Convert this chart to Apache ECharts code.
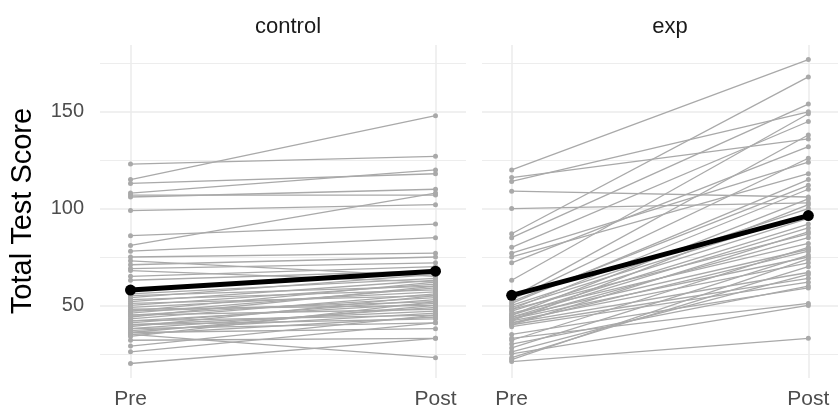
<!DOCTYPE html>
<html>
<head>
<meta charset="utf-8">
<script src="https://cdn.jsdelivr.net/npm/echarts@6/dist/echarts.min.js"></script>
<style>
  html, body { margin: 0; padding: 0; background: #fff; }
  #chart { width: 838px; height: 415px; }
</style>
</head>
<body>
<div id="chart"></div>
<script>
  // paired scores, one entry per student (Pre -> Post)
  const controlPre  = [123, 115, 113, 108, 107, 106, 99, 86, 81, 78, 75, 73, 71, 69, 68, 65, 63, 56, 55, 54, 53, 52, 51, 50, 49, 48, 47, 47, 46, 45, 45, 44, 43, 42, 42, 41, 40, 40, 39, 38, 38, 37, 36, 36, 35, 35, 34, 32, 29, 26, 20];
  const controlPost = [127, 148, 118, 120, 107, 110, 102, 92, 108, 85, 77, 65, 75, 72, 62, 70, 68, 64, 60, 66, 58, 63, 55, 61, 57, 50, 62, 52, 59, 54, 48, 60, 56, 45, 51, 53, 47, 43, 55, 49, 41, 46, 50, 38, 44, 23, 52, 33, 45, 41, 33];
  const expPre  = [120, 116, 114, 109, 100, 87, 85, 80, 77, 75, 72, 63, 54, 53, 52, 51, 50, 49, 48, 48, 47, 46, 45, 45, 44, 44, 43, 43, 42, 42, 41, 41, 40, 40, 39, 35, 33, 32, 30, 28, 26, 25, 23, 21, 22];
  const expPost = [177, 136, 150, 106, 103, 168, 154, 145, 124, 118, 132, 149, 138, 126, 112, 115, 100, 97, 87, 110, 95, 82, 92, 105, 79, 90, 75, 85, 72, 102, 67, 78, 64, 88, 62, 59, 51, 80, 60, 76, 66, 50, 70, 33, 74];
  // group means
  const controlMean = [57.9, 67.7];
  const expMean = [55.2, 96.4];

  const timeLabels = ['Pre', 'Post'];
  const panelNames = ['control', 'exp'];
  const majorBreaks = [50, 100, 150];
  const minorBreaks = [25, 75, 125, 175];

  const GREY = '#a9a9a9';
  const GRID = '#ebebeb';
  const textFont = 'Liberation Sans, Arial, sans-serif';

  const chart = echarts.init(document.getElementById('chart'));

  const makeX = (gridIndex) => ({
    type: 'value',
    gridIndex: gridIndex,
    min: -0.1,
    max: 1.1,
    axisLine: { show: false },
    axisTick: { show: false, customValues: [0, 1] },
    axisLabel: {
      customValues: [0, 1],
      formatter: (v) => timeLabels[Math.round(v)],
      color: '#4d4d4d',
      fontSize: 21,
      fontFamily: textFont,
      margin: 11,
    },
    splitLine: { show: true, lineStyle: { color: GRID, width: 1.5 } },
  });

  const makeY = (gridIndex, breaks, major) => ({
    type: 'value',
    gridIndex: gridIndex,
    min: 12.5,
    max: 184.5,
    axisLine: { show: false },
    axisTick: { show: false, customValues: breaks },
    axisLabel: {
      show: major && gridIndex === 0,
      customValues: breaks,
      color: '#4d4d4d',
      fontSize: 20,
      fontFamily: textFont,
      margin: 16,
    },
    splitLine: { show: true, lineStyle: { color: GRID, width: major ? 1.5 : 0.9 } },
  });

  const series = [];
  const addGroup = (pre, post, mean, idx) => {
    pre.forEach((p, i) => {
      series.push({
        type: 'line',
        xAxisIndex: idx,
        yAxisIndex: idx * 2,
        data: [[0, p], [1, post[i]]],
        symbol: 'circle',
        symbolSize: 5,
        lineStyle: { color: GREY, width: 1.3 },
        itemStyle: { color: GREY },
        silent: true,
        z: 2,
      });
    });
    series.push({
      type: 'line',
      xAxisIndex: idx,
      yAxisIndex: idx * 2,
      data: [[0, mean[0]], [1, mean[1]]],
      symbol: 'circle',
      symbolSize: 11,
      lineStyle: { color: '#000', width: 5 },
      itemStyle: { color: '#000' },
      silent: true,
      z: 5,
    });
  };
  addGroup(controlPre, controlPost, controlMean, 0);
  addGroup(expPre, expPost, expMean, 1);

  chart.setOption({
    animation: false,
    backgroundColor: '#fff',
    title: [
      { text: panelNames[0], left: 283, top: 11, textAlign: 'center',
        textStyle: { fontSize: 22, fontWeight: 'normal', color: '#1a1a1a', fontFamily: textFont } },
      { text: panelNames[1], left: 665, top: 11, textAlign: 'center',
        textStyle: { fontSize: 22, fontWeight: 'normal', color: '#1a1a1a', fontFamily: textFont } },
    ],
    graphic: [{
      type: 'text',
      x: 23,
      y: 211,
      rotation: Math.PI / 2,
      style: {
        text: 'Total Test Score',
        fontSize: 29,
        fontFamily: textFont,
        fill: '#000',
        textAlign: 'center',
        textVerticalAlign: 'middle',
      },
    }],
    grid: [
      { left: 100, top: 45, width: 366, height: 333 },
      { left: 482, top: 45, width: 366, height: 333 },
    ],
    xAxis: [makeX(0), makeX(1)],
    yAxis: [
      makeY(0, majorBreaks, true), makeY(0, minorBreaks, false),
      makeY(1, majorBreaks, true), makeY(1, minorBreaks, false),
    ],
    series: series,
  });
</script>
</body>
</html>
